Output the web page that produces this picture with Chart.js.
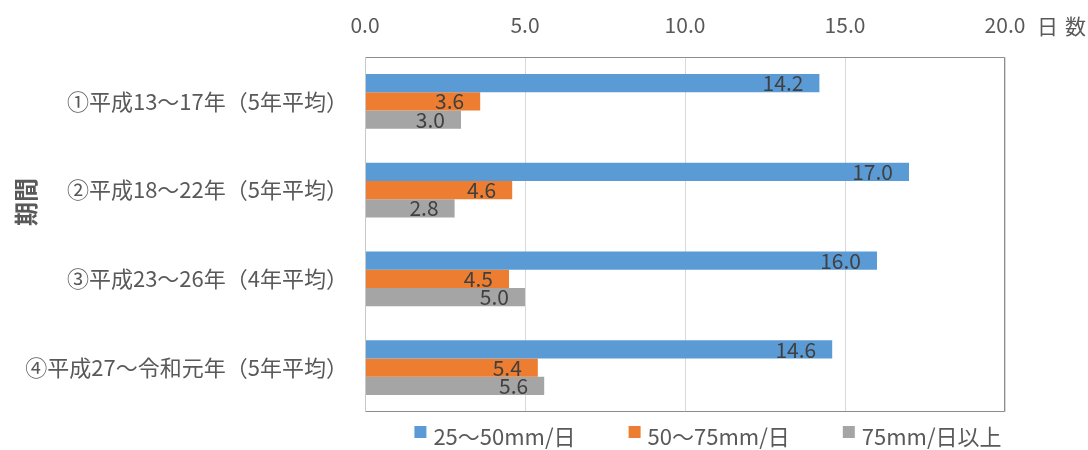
<!DOCTYPE html>
<html>
<head>
<meta charset="utf-8">
<script src="https://cdn.jsdelivr.net/npm/chart.js@4/dist/chart.umd.min.js"></script>
<style>
  html, body { margin: 0; padding: 0; background: #fff; }
  #wrap { width: 1088px; height: 450px; position: relative; }
</style>
</head>
<body>
<div id="wrap"><canvas id="c" width="1088" height="450"></canvas></div>
<script>
const categories = [
  '①平成13～17年（5年平均）',
  '②平成18～22年（5年平均）',
  '③平成23～26年（4年平均）',
  '④平成27～令和元年（5年平均）'
];
const seriesNames = ['25～50mm/日', '50～75mm/日', '75mm/日以上'];
const series25to50 = [14.2, 17.0, 16.0, 14.6];
const series50to75 = [3.6, 4.6, 4.5, 5.4];
const series75plus = [3.0, 2.8, 5.0, 5.6];
const seriesColors = ['#5B9BD5', '#ED7D31', '#A5A5A5'];
const xTicks = [0, 5, 10, 15, 20];
const xUnit = '日数';
const yTitle = '期間';

const FONT = '"Noto Sans CJK JP", "Noto Sans", sans-serif';
const TXT = '#595959';

const PLOT_LEFT = 365, PLOT_TOP = 57;

const labelPlugin = {
  id: 'extras',
  afterDatasetsDraw(chart) {
    const ctx = chart.ctx;
    const area = chart.chartArea;
    ctx.save();
    // frame
    ctx.lineWidth = 1;
    ctx.strokeStyle = '#8c8c8c';
    ctx.beginPath();
    ctx.moveTo(area.left, area.top + 0.5);
    ctx.lineTo(area.right - 0.5, area.top + 0.5);
    ctx.lineTo(area.right - 0.5, area.bottom - 0.5);
    ctx.lineTo(area.left, area.bottom - 0.5);
    ctx.stroke();
    ctx.strokeStyle = '#c8c8c8';
    ctx.beginPath();
    ctx.moveTo(area.left + 0.5, area.top);
    ctx.lineTo(area.left + 0.5, area.bottom);
    ctx.stroke();

    // data labels (inside end)
    ctx.font = '21px ' + FONT;
    ctx.fillStyle = '#404040';
    ctx.textAlign = 'right';
    ctx.textBaseline = 'alphabetic';
    chart.data.datasets.forEach((ds, di) => {
      const meta = chart.getDatasetMeta(di);
      meta.data.forEach((el, i) => {
        const v = ds.data[i];
        ctx.fillText(v.toFixed(1), el.x - 16, el.y + el.height / 2 - 1);
      });
    });

    // unit label after last tick
    const xs = chart.scales.x;
    ctx.font = '21px ' + FONT;
    ctx.fillStyle = TXT;
    ctx.textAlign = 'left';
    ctx.textBaseline = 'middle';
    try { ctx.letterSpacing = '7px'; } catch (e) {}
    ctx.fillText(xUnit, xs.getPixelForValue(20) + 32, 26);
    try { ctx.letterSpacing = '0px'; } catch (e) {}

    // y axis title
    ctx.save();
    ctx.translate(26, 202);
    ctx.rotate(-Math.PI / 2);
    ctx.font = 'bold 24px ' + FONT;
    ctx.fillStyle = TXT;
    ctx.textAlign = 'center';
    ctx.textBaseline = 'middle';
    ctx.fillText(yTitle, 0, 0);
    ctx.restore();

    // legend
    ctx.font = '22px ' + FONT;
    const gap = 53, box = 12, boxGap = 7;
    const widths = chart.data.datasets.map(ds => box + boxGap + ctx.measureText(ds.label).width);
    const total = widths.reduce((a, b) => a + b, 0) + gap * (widths.length - 1);
    let x = 708 - total / 2;
    chart.data.datasets.forEach((ds, di) => {
      ctx.fillStyle = ds.backgroundColor;
      ctx.fillRect(x, 426, box, box);
      ctx.fillStyle = TXT;
      ctx.textAlign = 'left';
      ctx.textBaseline = 'middle';
      ctx.fillText(ds.label, x + box + boxGap, 437);
      x += widths[di] + gap;
    });
    ctx.restore();
  }
};

new Chart(document.getElementById('c'), {
  type: 'bar',
  data: {
    labels: categories,
    datasets: [
      { label: seriesNames[0], data: series25to50, backgroundColor: seriesColors[0] },
      { label: seriesNames[1], data: series50to75, backgroundColor: seriesColors[1] },
      { label: seriesNames[2], data: series75plus, backgroundColor: seriesColors[2] }
    ]
  },
  options: {
    indexAxis: 'y',
    responsive: false,
    animation: false,
    devicePixelRatio: 1,
    layout: { padding: { left: 0, top: 0, right: 83, bottom: 38 } },
    datasets: { bar: { categoryPercentage: 0.615, barPercentage: 1.0 } },
    plugins: { legend: { display: false }, tooltip: { enabled: false } },
    scales: {
      x: {
        position: 'top',
        min: 0, max: 20,
        afterBuildTicks(scale) { scale.ticks = xTicks.map(v => ({ value: v })); },
        afterFit(scale) { scale.height = PLOT_TOP; },
        ticks: {
          padding: 19,
          color: TXT,
          font: { family: FONT, size: 21 },
          callback: v => Number(v).toFixed(1)
        },
        grid: { color: '#d9d9d9', lineWidth: 1, drawTicks: false },
        border: { display: false }
      },
      y: {
        afterFit(scale) { scale.width = PLOT_LEFT; },
        ticks: {
          padding: 17,
          color: TXT,
          font: { family: FONT, size: 22 }
        },
        grid: { display: false, drawTicks: false },
        border: { display: false }
      }
    }
  },
  plugins: [labelPlugin]
});
</script>
</body>
</html>
